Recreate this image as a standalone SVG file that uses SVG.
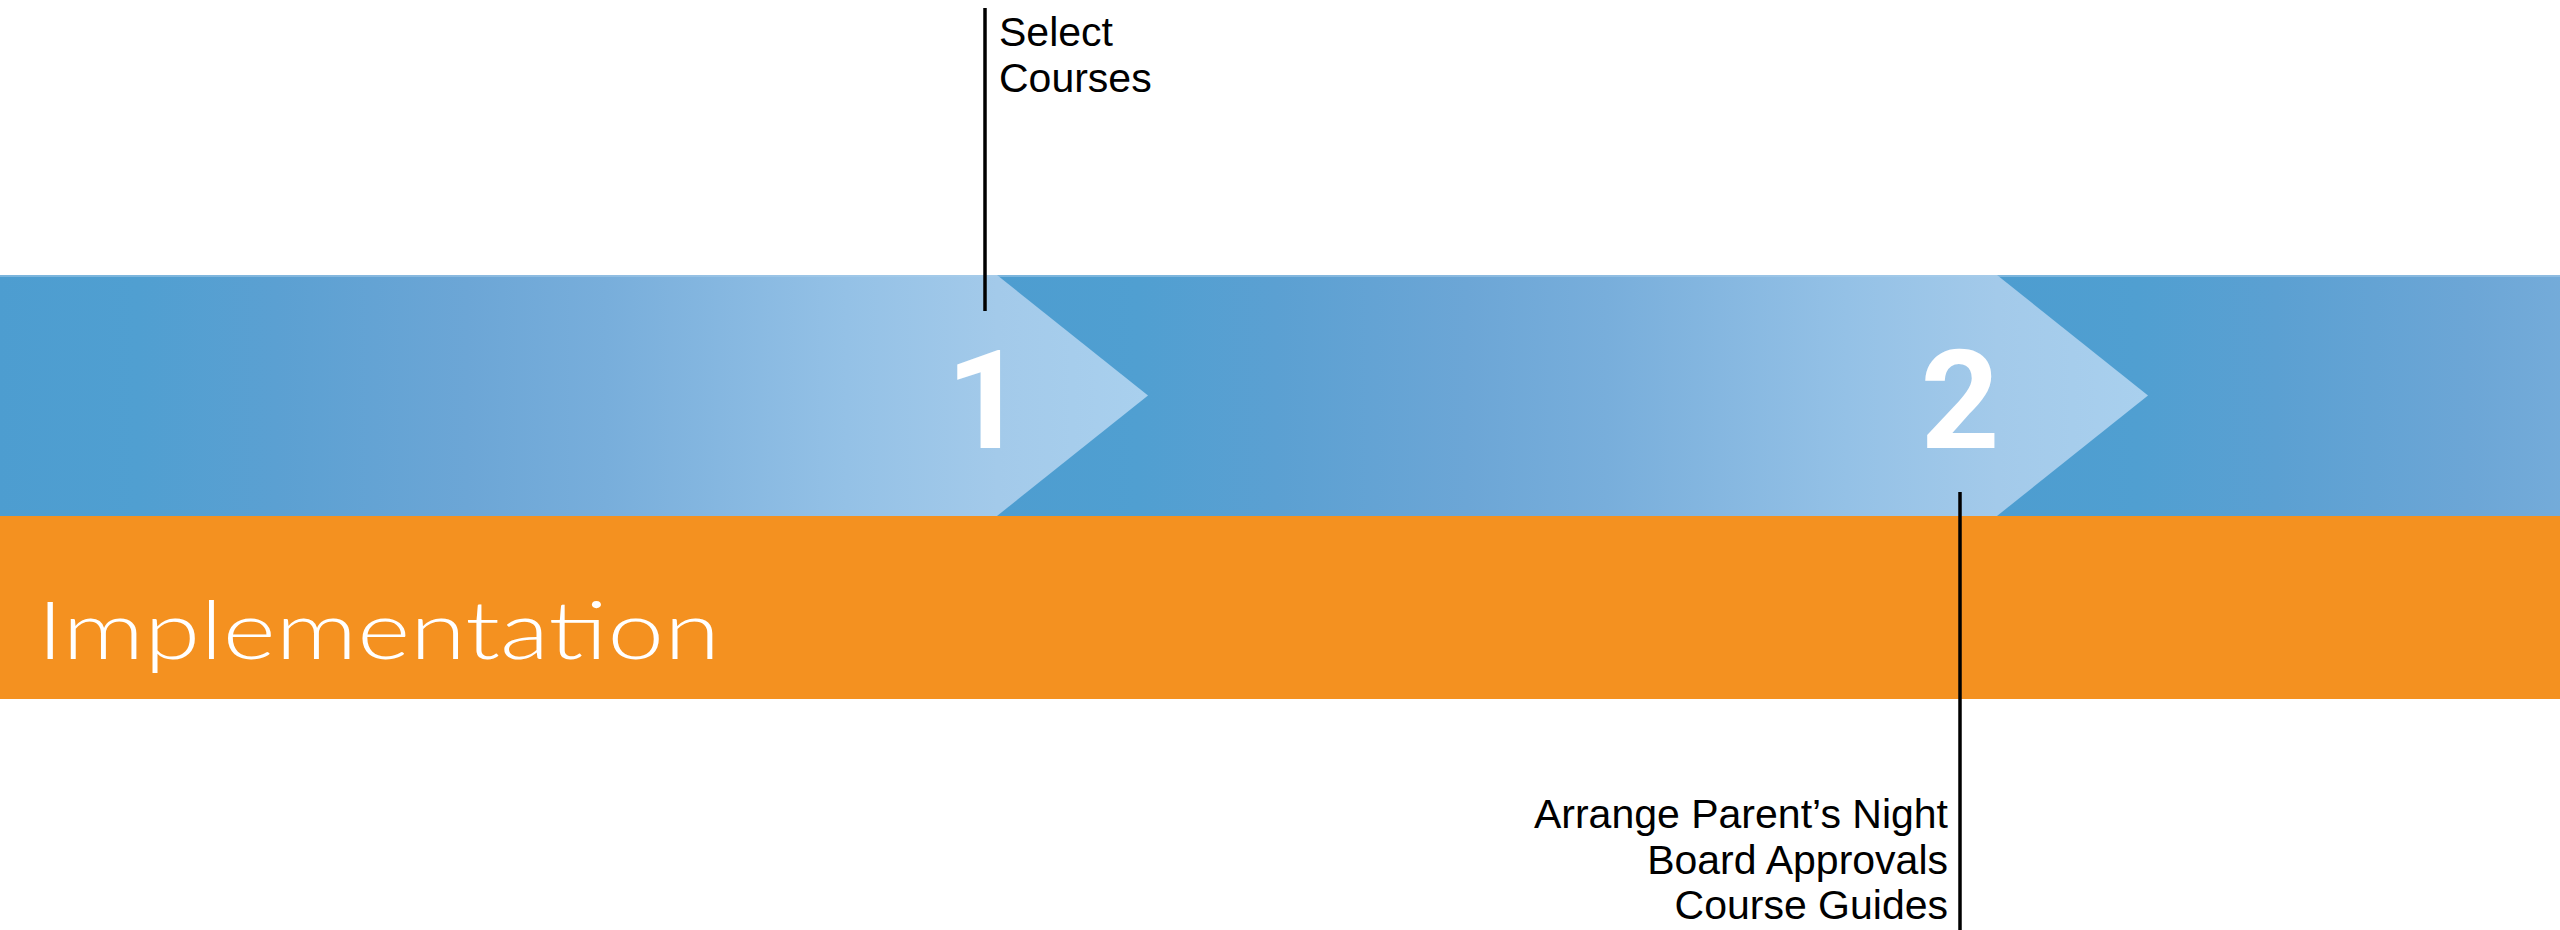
<svg xmlns="http://www.w3.org/2000/svg" width="2560" height="930" viewBox="0 0 2560 930">
  <style>
    .lbl { font-family: "Liberation Sans", Arial, sans-serif; font-size: 41px; fill: #000; }
    .num { font-family: Roboto, "Open Sans", sans-serif; font-weight: bold; font-size: 138px; fill: #fff; }
    .title { font-family: "Lato", "DejaVu Sans", sans-serif; font-weight: 300; font-size: 80px; fill: #fff; }
    .lead { stroke: #000; stroke-width: 3.5; fill: none; }
  </style>
  <defs>
    <linearGradient id="g1" gradientUnits="userSpaceOnUse" x1="-3" y1="0" x2="1147" y2="0">
      <stop offset="0" stop-color="#4D9DD0"/>
      <stop offset="0.122" stop-color="#509FD1"/>
      <stop offset="0.243" stop-color="#5BA0D2"/>
      <stop offset="0.409" stop-color="#6CA6D6"/>
      <stop offset="0.53" stop-color="#78AEDB"/>
      <stop offset="0.739" stop-color="#94C1E6"/>
      <stop offset="0.87" stop-color="#A3CAEA"/>
      <stop offset="1" stop-color="#A9D0EE"/>
    </linearGradient>
    <linearGradient id="g2" href="#g1" gradientUnits="userSpaceOnUse" x1="997" y1="0" x2="2147" y2="0"/>
    <linearGradient id="g3" href="#g1" gradientUnits="userSpaceOnUse" x1="1997" y1="0" x2="3147" y2="0"/>
  </defs>

  <rect x="0" y="0" width="2560" height="930" fill="#fff"/>

  <g id="band">
    <rect x="1997" y="275" width="563" height="241" fill="url(#g3)"/>
    <polygon points="997,275 1997,275 2148,395.5 1997,516 997,516" fill="url(#g2)"/>
    <polygon points="-3,275 997,275 1148,395.5 997,516 -3,516" fill="url(#g1)"/>
    <rect x="0" y="275" width="2560" height="2" fill="#A9CDEA" opacity="0.5"/>
  </g>

  <g id="implementation">
    <rect x="0" y="516" width="2560" height="183" fill="#F49120"/>
    <text class="title" x="37" y="659" textLength="683" lengthAdjust="spacingAndGlyphs">Implementation</text>
  </g>

  <g id="step1">
    <text class="num" x="946" y="448">1</text>
  </g>
  <g id="step2">
    <text class="num" x="1960" y="448" text-anchor="middle">2</text>
  </g>

  <g id="connectors">
    <line class="lead" x1="985" y1="8" x2="985" y2="311"/>
    <line class="lead" x1="1960" y1="492" x2="1960" y2="930"/>
  </g>

  <g id="label1">
    <text class="lbl" x="999" y="46">Select</text>
    <text class="lbl" x="999" y="92">Courses</text>
  </g>
  <g id="label2">
    <text class="lbl" x="1948" y="828" text-anchor="end">Arrange Parent’s Night</text>
    <text class="lbl" x="1948" y="874" text-anchor="end">Board Approvals</text>
    <text class="lbl" x="1948" y="919" text-anchor="end">Course Guides</text>
  </g>
</svg>
